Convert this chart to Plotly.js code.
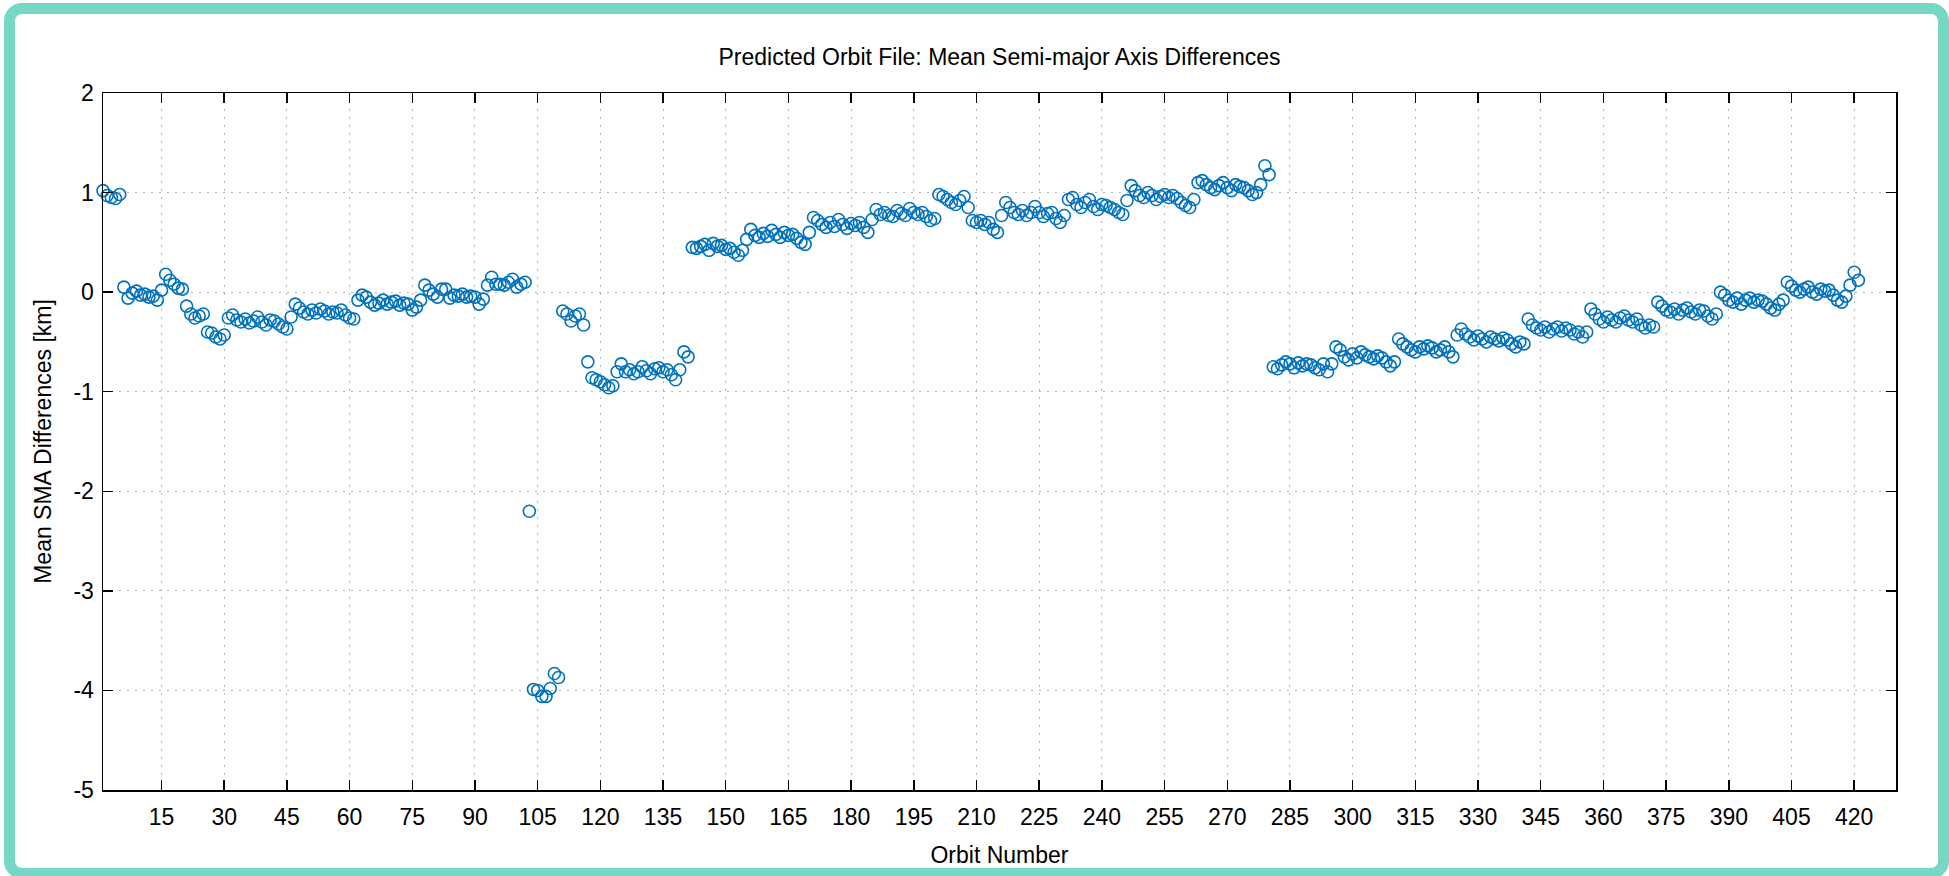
<!DOCTYPE html>
<html>
<head>
<meta charset="utf-8">
<script src="https://cdn.plot.ly/plotly-3.0.1.min.js"></script>
<style>
  html, body { margin: 0; padding: 0; background: #ffffff; overflow: hidden; }
  #chart { width: 1949px; height: 876px; position: absolute; left: 0; top: 0; }
  #frame { position: absolute; left: 4px; top: 3px; width: 1945px; height: 876px; box-sizing: border-box;
           border: 11px solid #76d7c4; border-radius: 18px; pointer-events: none; }
</style>
</head>
<body>
<div id="chart"></div>
<div id="frame"></div>
<script>
// ---- data ----
const firstOrbit = 1;
const sma001to030 = [1.02, 0.97, 0.95, 0.94, 0.98,
  0.05, -0.06, -0.01, 0.01, -0.03, -0.02, -0.05, -0.04, -0.08, 0.02,
  0.18, 0.12, 0.08, 0.04, 0.03,
  -0.14, -0.22, -0.26, -0.24, -0.22,
  -0.40, -0.41, -0.45, -0.47, -0.43];
const sma031to102 = [-0.26, -0.23, -0.28, -0.30, -0.27, -0.31, -0.29, -0.25, -0.30, -0.33, -0.28, -0.29, -0.32, -0.35, -0.37,
  -0.25, -0.12, -0.16, -0.20, -0.22, -0.18, -0.21, -0.17, -0.19, -0.22, -0.20, -0.21, -0.18, -0.23, -0.26, -0.27,
  -0.08, -0.03, -0.05, -0.10, -0.13, -0.11, -0.08, -0.12, -0.10, -0.09, -0.13, -0.11, -0.12, -0.18, -0.15, -0.08,
  0.07, 0.02, -0.02, -0.05, 0.03, 0.03, -0.06, -0.03, -0.04, -0.02, -0.05, -0.04, -0.05, -0.12, -0.07,
  0.07, 0.15, 0.08, 0.08, 0.07, 0.10, 0.13, 0.05, 0.08, 0.10];
const sma103to141 = [-2.20, -3.99, -4.00, -4.06, -4.06, -3.98, -3.83, -3.87,
  -0.19, -0.22, -0.29, -0.24, -0.22, -0.33,
  -0.70, -0.86, -0.88, -0.90, -0.93, -0.96, -0.94, -0.80, -0.72, -0.80, -0.78, -0.82, -0.80,
  -0.75, -0.79, -0.82, -0.77, -0.76, -0.80, -0.78, -0.83, -0.88, -0.78, -0.60, -0.65];
const sma142to208 = [0.45, 0.44, 0.46, 0.48, 0.42, 0.49, 0.46, 0.47, 0.43, 0.44, 0.40, 0.37, 0.42,
  0.53, 0.63, 0.57, 0.55, 0.59, 0.56, 0.62, 0.58, 0.55, 0.60, 0.57, 0.58, 0.54, 0.50, 0.48,
  0.60, 0.75, 0.72, 0.68, 0.65, 0.70, 0.66, 0.73, 0.68, 0.64, 0.69, 0.67, 0.70, 0.65, 0.60,
  0.73, 0.83, 0.78, 0.80, 0.77, 0.76, 0.82, 0.79, 0.77, 0.84, 0.80, 0.78, 0.80, 0.76, 0.72, 0.74,
  0.98, 0.96, 0.93, 0.90, 0.88, 0.92, 0.96, 0.85];
const sma209to280 = [0.72, 0.70, 0.72, 0.68, 0.70, 0.63, 0.60, 0.77,
  0.90, 0.85, 0.80, 0.78, 0.82, 0.77, 0.80, 0.86, 0.80, 0.76, 0.79, 0.80, 0.74, 0.70, 0.77,
  0.93, 0.95, 0.88, 0.85, 0.90, 0.93, 0.86, 0.83, 0.88, 0.87, 0.85, 0.83, 0.80, 0.78, 0.92,
  1.07, 1.02, 0.97, 0.95, 1.00, 0.97, 0.93, 0.96, 0.98, 0.95, 0.97, 0.94, 0.90, 0.87, 0.85, 0.93,
  1.10, 1.12, 1.08, 1.05, 1.03, 1.07, 1.10, 1.05, 1.02, 1.08, 1.06, 1.05, 1.02, 0.98, 1.00, 1.08, 1.27, 1.18];
const sma281to341 = [-0.75, -0.77, -0.73, -0.70, -0.72, -0.76, -0.71, -0.74, -0.72, -0.73, -0.76, -0.78, -0.72, -0.80, -0.72,
  -0.55, -0.58, -0.65, -0.68, -0.62, -0.66, -0.60, -0.63, -0.65, -0.67, -0.64, -0.66, -0.70, -0.74, -0.70,
  -0.47, -0.52, -0.55, -0.58, -0.60, -0.55, -0.57, -0.54, -0.56, -0.60, -0.58, -0.55, -0.60, -0.65,
  -0.43, -0.37, -0.42, -0.45, -0.48, -0.44, -0.47, -0.50, -0.45, -0.47, -0.49, -0.46, -0.48, -0.52, -0.55, -0.50, -0.52];
const sma342to421 = [-0.27, -0.33, -0.36, -0.38, -0.35, -0.40, -0.37, -0.35, -0.39, -0.36, -0.38, -0.42, -0.40, -0.45, -0.40,
  -0.17, -0.22, -0.27, -0.30, -0.25, -0.28, -0.30, -0.26, -0.24, -0.28, -0.30, -0.27, -0.33, -0.36, -0.33, -0.35,
  -0.10, -0.14, -0.18, -0.20, -0.17, -0.22, -0.18, -0.16, -0.20, -0.22, -0.18, -0.19, -0.24, -0.27, -0.22,
  0.00, -0.03, -0.08, -0.10, -0.06, -0.12, -0.08, -0.06, -0.10, -0.08, -0.09, -0.12, -0.16, -0.18, -0.12, -0.08,
  0.10, 0.06, 0.02, 0.00, 0.03, 0.05, 0.00, -0.02, 0.03, 0.01, 0.02, -0.03, -0.08, -0.10, -0.04, 0.07, 0.20, 0.12];

const xTickVals = [15, 30, 45, 60, 75, 90, 105, 120, 135, 150, 165, 180, 195, 210, 225, 240, 255, 270, 285, 300, 315, 330, 345, 360, 375, 390, 405, 420];
const yTickVals = [-5, -4, -3, -2, -1, 0, 1, 2];
const yTickText = ['-5', '-4', '-3', '-2', '-1', '0', '1', '2'];

const titleText = 'Predicted Orbit File: Mean Semi-major Axis Differences';
const xTitle = 'Orbit Number';
const yTitle = 'Mean SMA Differences [km]';

// ---- assemble ----
const smaValues = [].concat(sma001to030, sma031to102, sma103to141, sma142to208, sma209to280, sma281to341, sma342to421);
const orbits = smaValues.map((_, i) => firstOrbit + i);

const FONT = 'Liberation Sans, Arial, Helvetica, sans-serif';
const FS = 23;
const axisCommon = {
  showline: true, linecolor: '#000000', linewidth: 1.5, mirror: 'ticks',
  ticks: 'inside', ticklen: 10, tickwidth: 1.5, tickcolor: '#000000',
  showgrid: true, gridcolor: '#b5b5b5', gridwidth: 1, griddash: '2px,6px',
  zeroline: false, tickfont: {family: FONT, size: FS, color: '#000000'}
};

const trace = {
  type: 'scatter', mode: 'markers', x: orbits, y: smaValues,
  marker: {symbol: 'circle-open', size: 12, color: '#0072BD', line: {width: 1.6, color: '#0072BD'}},
  cliponaxis: false, hoverinfo: 'x+y'
};

const layout = {
  width: 1949, height: 876,
  paper_bgcolor: '#ffffff', plot_bgcolor: '#ffffff',
  margin: {l: 103, r: 53, t: 93, b: 86},
  showlegend: false,
  title: {text: titleText, font: {family: FONT, size: FS, color: '#000000'},
          x: 0.5, xref: 'paper', xanchor: 'center', y: 1 - 57/876, yref: 'container', yanchor: 'middle'},
  xaxis: Object.assign({}, axisCommon, {
    range: [1, 430], tickmode: 'array', tickvals: xTickVals, ticklabelstandoff: 6,
    title: {text: xTitle, font: {family: FONT, size: FS, color: '#000000'}, standoff: 18}
  }),
  yaxis: Object.assign({}, axisCommon, {
    range: [-5, 2], tickmode: 'array', tickvals: yTickVals, ticktext: yTickText, ticklabelstandoff: 3,
    title: {text: yTitle, font: {family: FONT, size: FS, color: '#000000'}, standoff: 15}
  })
};

Plotly.newPlot('chart', [trace], layout, {displayModeBar: false, staticPlot: true});
</script>
</body>
</html>
